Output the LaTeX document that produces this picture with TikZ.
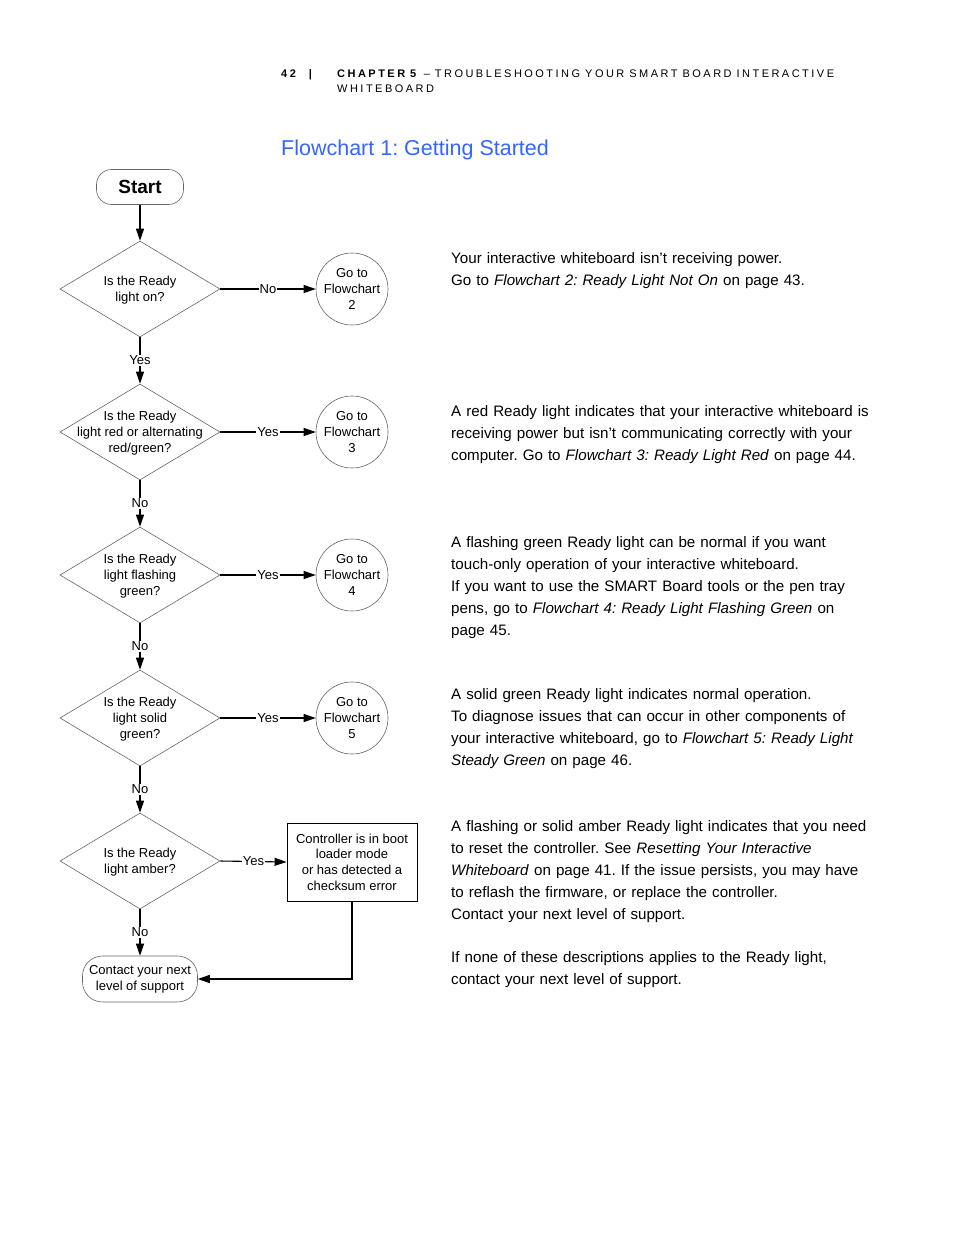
\documentclass[tikz,border=0pt]{standalone}
\usepackage{fontspec}
\setmainfont{Liberation Sans}
\usetikzlibrary{shapes.geometric,arrows.meta}
\definecolor{titleblue}{RGB}{51,102,255}
\frenchspacing
\newcommand\myhdrfont{\fontsize{11}{15}\selectfont\addfontfeature{LetterSpace=22.5}}
\newcommand\hsp{\hspace{5pt}}
\begin{document}
\begin{tikzpicture}[x=1pt,y=-1pt,
  every node/.style={inner sep=0pt},
  dia/.style={shape=diamond, draw=black!60, line width=0.6pt, aspect=1.667,
    minimum width=160pt, minimum height=96pt, inner sep=0pt},
  dtext/.style={align=center, yshift=-1pt, font=\fontsize{13}{16}\selectfont},
  goto/.style={circle, draw=black!60, line width=0.6pt, minimum size=72pt,
    align=center, font=\fontsize{13}{16}\selectfont},
  arr/.style={line width=1.1pt, -{Triangle[length=12pt,width=8pt]}},
  lab/.style={fill=white, inner sep=1pt, font=\fontsize{13}{16}\selectfont},
  para/.style={anchor=base west, text width=450pt, align=left,
    font=\fontsize{15.15}{22}\selectfont},
  hdr/.style={anchor=base west, text width=560pt, font=\myhdrfont}]
\useasboundingbox (0,0) rectangle (954,1235);
\fill[white] (0,0) rectangle (954,1235);

% header
\node[hdr, text width=40pt] (pg) at (281,77) {\textbf{42\hspace{13pt}|}};
\node[hdr] (chap) at (337,77) {\textbf{CHAPTER\hsp5}\hsp--\hsp TROUBLESHOOTING\hsp YOUR\hsp SMART\hsp BOARD\hsp INTERACTIVE\\WHITEBOARD};
\node[anchor=base west, text=titleblue, font=\fontsize{21.5}{26}\selectfont] (title) at (281,155) {Flowchart 1: Getting Started};

% flowchart
\node[draw=black!60, line width=0.6pt, rounded corners=15pt, minimum width=87pt, minimum height=35pt,
  font=\fontsize{19}{22}\selectfont\bfseries] (start) at (140,187) {Start};

\node[dia] (d1) at (140,289) {};
\node[dtext] (t1) at (d1.center) {Is the Ready\\light on?};
\node[dia] (d2) at (140,432) {};
\node[dtext] (t2) at (d2.center) {Is the Ready\\light red or alternating\\red/green?};
\node[dia] (d3) at (140,575) {};
\node[dtext] (t3) at (d3.center) {Is the Ready\\light flashing\\green?};
\node[dia] (d4) at (140,718) {};
\node[dtext] (t4) at (d4.center) {Is the Ready\\light solid\\green?};
\node[dia] (d5) at (140,861) {};
\node[dtext] (t5) at (d5.center) {Is the Ready\\light amber?};

\node[goto] (c1) at (352,289) {Go to\\Flowchart\\2};
\node[goto] (c2) at (352,432) {Go to\\Flowchart\\3};
\node[goto] (c3) at (352,575) {Go to\\Flowchart\\4};
\node[goto] (c4) at (352,718) {Go to\\Flowchart\\5};

\node[draw=black, line width=0.9pt, minimum width=130pt, minimum height=78pt, align=center,
  font=\fontsize{13}{15.7}\selectfont] (box) at (352,862)
  {Controller is in boot\\loader mode\\or has detected a\\checksum error};

\node[draw=black!60, line width=0.6pt, rounded corners=20pt, minimum width=115pt, minimum height=46pt,
  align=center, font=\fontsize{13}{16}\selectfont] (term) at (140,979)
  {Contact your next\\level of support};

\draw[arr] (start.south) -- (d1.north);
\draw[arr] (d1.south) -- node[lab] {Yes} (d2.north);
\draw[arr] (d2.south) -- node[lab] {No} (d3.north);
\draw[arr] (d3.south) -- node[lab] {No} (d4.north);
\draw[arr] (d4.south) -- node[lab] {No} (d5.north);
\draw[arr] (d5.south) -- node[lab] {No} (term.north);
\draw[arr] (d1.east) -- node[lab] {No} (c1.west);
\draw[arr] (d2.east) -- node[lab] {Yes} (c2.west);
\draw[arr] (d3.east) -- node[lab] {Yes} (c3.west);
\draw[arr] (d4.east) -- node[lab] {Yes} (c4.west);
\draw[arr] (d5.east) -- node[lab] {Yes} (box.west);
\draw[arr] (box.south) |- (term.east);

% descriptions
\node[para] (p1) at (451,263) {Your interactive whiteboard isn’t receiving power.\\
Go to \textit{Flowchart 2: Ready Light Not On} on page 43.};
\node[para] (p2) at (451,416) {A red Ready light indicates that your interactive whiteboard is\\
receiving power but isn’t communicating correctly with your\\
computer. Go to \textit{Flowchart 3: Ready Light Red} on page 44.};
\node[para] (p3) at (451,547) {A flashing green Ready light can be normal if you want\\
touch-only operation of your interactive whiteboard.\\
If you want to use the SMART Board tools or the pen tray\\
pens, go to \textit{Flowchart 4: Ready Light Flashing Green} on\\
page 45.};
\node[para] (p4) at (451,699) {A solid green Ready light indicates normal operation.\\
To diagnose issues that can occur in other components of\\
your interactive whiteboard, go to \textit{Flowchart 5: Ready Light}\\
\textit{Steady Green} on page 46.};
\node[para] (p5) at (451,831) {A flashing or solid amber Ready light indicates that you need\\
to reset the controller. See \textit{Resetting Your Interactive}\\
\textit{Whiteboard} on page 41. If the issue persists, you may have\\
to reflash the firmware, or replace the controller.\\
Contact your next level of support.};
\node[para] (p6) at (451,962) {If none of these descriptions applies to the Ready light,\\
contact your next level of support.};
\end{tikzpicture}
\end{document}
